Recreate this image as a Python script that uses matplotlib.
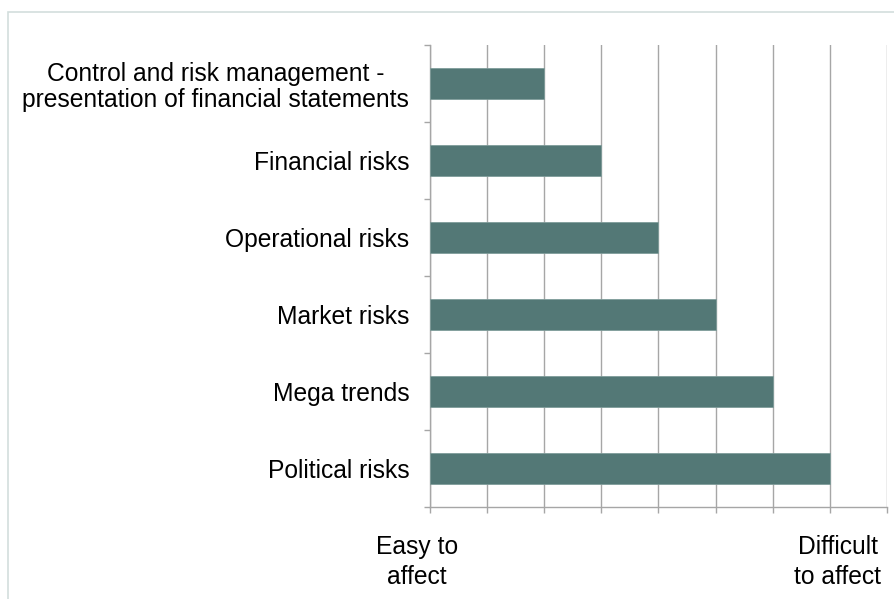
import matplotlib
matplotlib.use("Agg")
import matplotlib.pyplot as plt
from matplotlib.patches import Rectangle

plt.rcParams['font.family'] = ['Liberation Sans', 'DejaVu Sans']

categories = ["Control and risk management -\npresentation of financial statements",
              "Financial risks", "Operational risks", "Market risks",
              "Mega trends", "Political risks"]
values = [2, 3, 4, 5, 6, 7]
xtick_positions = [0, 7]
xtick_labels = ["Easy to\naffect", "Difficult\nto affect"]
xtick_offsets = [-0.23, 0.14]

dpi = 100
fig = plt.figure(figsize=(8.95, 5.99), dpi=dpi)
ax = fig.add_axes([430/895, 1-507/599, (887-430)/895, (507-45)/599])

fs = 17.75
bar_color = "#537876"
grid_color = "#a6a6a6"
ypos = list(range(len(categories)))
ax.barh(ypos, values, height=0.4, color=bar_color, edgecolor="#7f9c9a", linewidth=0.6, zorder=3)
ax.set_ylim(len(categories) - 0.5, -0.5)
ax.set_xlim(0, 8)

ax.set_xticks(range(0, 9))
ax.set_xticklabels([])
ax.tick_params(axis='x', length=4.5, color=grid_color, width=1)
ax.grid(axis='x', color=grid_color, linewidth=1, zorder=0)

ax.set_yticks([i - 0.5 for i in range(len(categories) + 1)])
ax.set_yticklabels([])
ax.set_yticks(ypos, minor=True)
labels = ax.set_yticklabels(categories, minor=True, fontsize=fs, ha='right', linespacing=1.1)
for t in labels:
    t.set_multialignment('center')
ax.tick_params(axis='y', which='major', length=4.5, color=grid_color, width=1)
ax.tick_params(axis='y', which='minor', length=0, pad=15)

for s in ['top', 'right']:
    ax.spines[s].set_visible(False)
for s in ['left', 'bottom']:
    ax.spines[s].set_color(grid_color)
    ax.spines[s].set_linewidth(1)

for pos, lab, off in zip(xtick_positions, xtick_labels, xtick_offsets):
    ax.annotate(lab, xy=(pos + off, 0), xycoords=('data', 'axes fraction'),
                xytext=(0, -20), textcoords='offset points',
                ha='center', va='top', fontsize=fs, linespacing=1.35)

fig.patches.append(Rectangle((8/895, -0.1), 1.2, 1.1 - 12/599, transform=fig.transFigure,
                             fill=False, edgecolor="#d3dedd", linewidth=1.2))

fig.savefig("out.png", dpi=dpi)
